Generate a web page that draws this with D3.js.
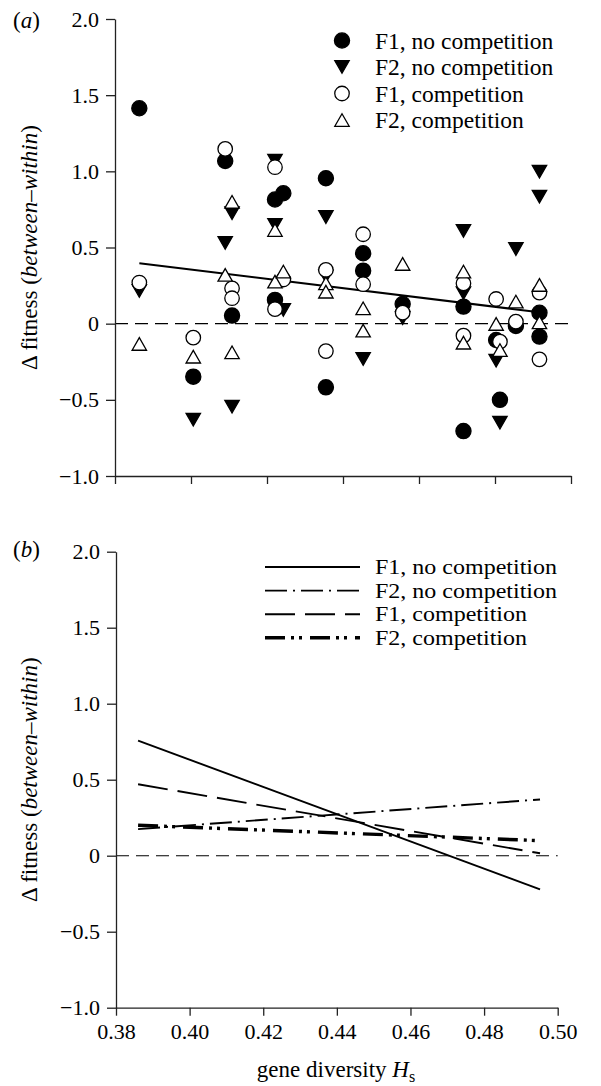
<html>
<head>
  <title>Fitness vs gene diversity</title>
  <script src="https://d3js.org/d3.v7.min.js"></script>
  <style>
    body { margin: 0; background: #fff; }
    svg { font-family: "Liberation Serif", "DejaVu Serif", serif; }
    .axis path, .axis line { stroke: #222; stroke-width: 1.3; }
    .axis text { font-size: 22px; fill: #000; font-family: "Liberation Serif", serif; }
  </style>
</head>
<body>
<script>
  // panel (a): points as [gene diversity, delta fitness]
  var f2NoComp = [[0.3864,0.215],[0.4006,-0.63],[0.409,0.53],[0.4108,0.725],[0.4108,-0.545],
    [0.4221,1.07],[0.4221,0.648],[0.4243,0.09],[0.4355,0.70],[0.4355,0.31],[0.4453,-0.232],
    [0.4557,0.037],[0.4717,0.609],[0.4717,0.20],[0.4803,-0.243],[0.4813,-0.65],[0.4855,0.49],
    [0.4917,0.998],[0.4917,0.834]];
  var f1NoComp = [[0.3864,1.414],[0.4006,-0.348],[0.409,1.068],[0.4108,0.053],[0.4221,0.815],
    [0.4221,0.156],[0.4243,0.856],[0.4355,0.955],[0.4355,-0.418],[0.4453,0.462],[0.4453,0.348],
    [0.4557,0.129],[0.4717,0.112],[0.4717,-0.705],[0.4803,-0.107],[0.4813,-0.50],[0.4855,-0.015],
    [0.4917,0.072],[0.4917,-0.085]];
  var f1Comp = [[0.3864,0.27],[0.4006,-0.092],[0.409,1.147],[0.4108,0.232],[0.4108,0.167],
    [0.4221,1.027],[0.4221,0.095],[0.4243,0.29],[0.4355,0.353],[0.4355,-0.18],[0.4453,0.587],
    [0.4453,0.259],[0.4557,0.072],[0.4717,0.265],[0.4717,-0.079],[0.4803,0.162],[0.4813,-0.118],
    [0.4855,0.013],[0.4917,0.204],[0.4917,-0.234]];
  var f2Comp = [[0.3864,-0.133],[0.4006,-0.217],[0.409,0.32],[0.4108,0.80],[0.4108,-0.188],
    [0.4221,0.615],[0.4221,0.276],[0.4243,0.342],[0.4355,0.265],[0.4355,0.21],[0.4453,0.101],
    [0.4453,-0.046],[0.4557,0.392],[0.4717,0.342],[0.4717,-0.125],[0.4803,-0.002],[0.4813,-0.173],
    [0.4855,0.145],[0.4917,0.254],[0.4917,0.009]];
  var fitLineA = [[0.3864,0.397],[0.4917,0.075]];

  // panel (b): fitted lines, two end points each
  var lineF1NoComp = [[0.386,0.757],[0.4952,-0.221]];
  var lineF2NoComp = [[0.386,0.175],[0.4952,0.37]];
  var lineF1Comp = [[0.386,0.47],[0.4952,0.016]];
  var lineF2Comp = [[0.386,0.20],[0.4952,0.099]];

  var xTicks = [0.38,0.40,0.42,0.44,0.46,0.48,0.50];
  var yTicks = [-1.0,-0.5,0,0.5,1.0,1.5,2.0];
  var legendLabels = ["F1, no competition","F2, no competition","F1, competition","F2, competition"];

  var width = 601, height = 1086;
  var svg = d3.select("body").append("svg")
    .attr("width", width).attr("height", height);

  var xa = d3.scaleLinear().domain([0.38,0.50]).range([115,571]);
  var ya = d3.scaleLinear().domain([-1,2]).range([476,19]);
  var xb = d3.scaleLinear().domain([0.38,0.50]).range([116,557.7]);
  var yb = d3.scaleLinear().domain([-1,2]).range([1007.7,551.7]);

  function fmt(v) {
    var s = v === 0 ? "0" : d3.format(".1f")(Math.abs(v));
    return v < 0 ? "\u2212" + s : s;
  }

  // triangles centred on their bounding box
  var triUp = { draw: function(c, s) { c.moveTo(0,-6.3); c.lineTo(7.2,6.3); c.lineTo(-7.2,6.3); c.closePath(); } };
  var triDown = { draw: function(c, s) { c.moveTo(0,6.3); c.lineTo(7.2,-6.3); c.lineTo(-7.2,-6.3); c.closePath(); } };

  var styles = [
    { data: f2NoComp, type: triDown, fill: "#000", stroke: "#000", legendRow: 1 },
    { data: f1NoComp, type: d3.symbolCircle, size: 180, fill: "#000", stroke: "#000", legendRow: 0 },
    { data: f1Comp, type: d3.symbolCircle, size: 165, fill: "#fff", stroke: "#000", legendRow: 2 },
    { data: f2Comp, type: triUp, fill: "#fff", stroke: "#000", legendRow: 3 }
  ];

  function drawAxes(x, y, labels, panelY, letter) {
    svg.append("line").attr("class","zero")
      .attr("x1", x.range()[0]).attr("x2", x(0.50))
      .attr("y1", y(0)).attr("y2", y(0))
      .attr("stroke","#000").attr("stroke-width",1.1).attr("stroke-dasharray","13,7");

    var ax = svg.append("g").attr("class","axis")
      .attr("transform","translate(0," + y(-1) + ")")
      .call(d3.axisBottom(x).tickValues(xTicks).tickSize(8).tickSizeOuter(0).tickPadding(6)
        .tickFormat(labels ? d3.format(".2f") : ""));
    ax.selectAll("text").attr("dy","0.8em");

    svg.append("g").attr("class","axis")
      .attr("transform","translate(" + x.range()[0] + ",0)")
      .call(d3.axisLeft(y).tickValues(yTicks).tickSize(9).tickSizeOuter(0).tickPadding(7).tickFormat(fmt));

    var t = svg.append("text")
      .attr("transform","translate(37," + ((y(2)+y(-1))/2) + ") rotate(-90)")
      .attr("text-anchor","middle").attr("font-size",23);
    t.append("tspan").text("\u0394 fitness (");
    t.append("tspan").attr("font-style","italic").text("between\u2013within");
    t.append("tspan").text(")");

    var p = svg.append("text").attr("x",13).attr("y",panelY).attr("font-size",23);
    p.append("tspan").text("(");
    p.append("tspan").attr("font-style","italic").text(letter);
    p.append("tspan").text(")");
  }

  // ---- panel (a)
  drawAxes(xa, ya, false, 28, "a");

  svg.append("path")
    .attr("d", d3.line().x(function(d){ return xa(d[0]); }).y(function(d){ return ya(d[1]); })(fitLineA))
    .attr("stroke","#000").attr("stroke-width",2).attr("fill","none");

  styles.forEach(function(st) {
    var sym = d3.symbol().type(st.type).size(st.size || 100);
    svg.append("g").selectAll("path")
      .data(st.data)
      .enter()
      .append("path")
      .attr("d", sym)
      .attr("transform", function(d){ return "translate(" + xa(d[0]) + "," + ya(d[1]) + ")"; })
      .attr("fill", st.fill).attr("stroke", st.stroke).attr("stroke-width",1.3);
  });

  var legA = svg.append("g");
  styles.forEach(function(st) {
    var yy = 40.5 + st.legendRow * 26.5;
    legA.append("path")
      .attr("d", d3.symbol().type(st.type).size(st.size || 100)())
      .attr("transform","translate(342," + yy + ")")
      .attr("fill", st.fill).attr("stroke", st.stroke).attr("stroke-width",1.3);
    legA.append("text").attr("x",375).attr("y",yy + 8).attr("font-size",23.5)
      .text(legendLabels[st.legendRow]);
  });

  // ---- panel (b)
  drawAxes(xb, yb, true, 557, "b");

  var lineStyles = [
    { data: lineF1NoComp, dash: null, w: 1.9 },
    { data: lineF2NoComp, dash: "22,6,2,6", w: 1.9 },
    { data: lineF1Comp, dash: "30,10", w: 1.9 },
    { data: lineF2Comp, dash: "20,6,3,5,3,8", w: 3.4 }
  ];
  var lineB = d3.line().x(function(d){ return xb(d[0]); }).y(function(d){ return yb(d[1]); });
  lineStyles.forEach(function(ls, i) {
    svg.append("path").attr("d", lineB(ls.data))
      .attr("stroke","#000").attr("stroke-width",ls.w).attr("fill","none")
      .attr("stroke-dasharray", ls.dash);
    var yy = 567 + i * 23.6;
    svg.append("line").attr("x1",265).attr("x2",360).attr("y1",yy).attr("y2",yy)
      .attr("stroke","#000").attr("stroke-width",ls.w).attr("stroke-dasharray", ls.dash);
    var tx = svg.append("text").attr("x",375).attr("y",yy + 7).attr("font-size",21)
      .text(legendLabels[i]);
    // the legend is set tight: widen glyphs to the reference width
    var w = tx.node().getComputedTextLength();
    tx.attr("textLength", w * 24 / 21).attr("lengthAdjust","spacingAndGlyphs");
  });

  var xt = svg.append("text").attr("x",336).attr("y",1077).attr("text-anchor","middle").attr("font-size",23);
  xt.append("tspan").text("gene diversity ");
  xt.append("tspan").attr("font-style","italic").text("H");
  xt.append("tspan").attr("font-size",16).attr("dy",5).text("s");
</script>
</body>
</html>
